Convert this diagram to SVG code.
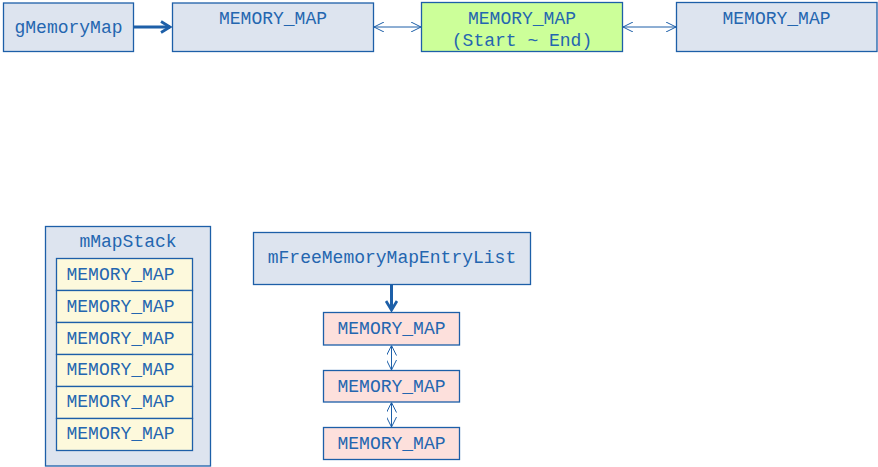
<svg xmlns="http://www.w3.org/2000/svg" width="878" height="467" viewBox="0 0 878 467">
<style>
.bx{fill:#dde4ef;stroke:#1d5fa8;stroke-width:1.3}
.gr{fill:#ccff99;stroke:#1d5fa8;stroke-width:1.3}
.yl{fill:#fdf9dc;stroke:#1d5fa8;stroke-width:1.3}
.pk{fill:#fde0dc;stroke:#1d5fa8;stroke-width:1.3}
text{font-family:"Liberation Mono","Courier New",monospace;font-size:18px;fill:#2466b0}
.c{text-anchor:middle}
.thin{stroke:#1d5fa8;stroke-width:1;fill:none}
.thick{stroke:#1d5fa8;stroke-width:3;fill:none}
</style>
<defs>
<marker id="oa" viewBox="0 0 10 10" refX="10" refY="5" markerWidth="10" markerHeight="10" markerUnits="userSpaceOnUse" orient="auto-start-reverse">
<path d="M0,0 L10,5 L0,10" fill="none" stroke="#1d5fa8" stroke-width="1"/>
</marker>
<marker id="ta" viewBox="0 0 10 10" refX="8" refY="5" markerWidth="4.6" markerHeight="4.6" orient="auto">
<path d="M1.5,1 L8,5 L1.5,9" fill="none" stroke="#1d5fa8" stroke-width="2"/>
</marker>
</defs>
<g id="connectors">
<line class="thick" x1="133.5" y1="27" x2="170" y2="27" marker-end="url(#ta)"/>
<line class="thin" x1="374" y1="27" x2="421" y2="27" marker-start="url(#oa)" marker-end="url(#oa)"/>
<line class="thin" x1="623" y1="27" x2="676" y2="27" marker-start="url(#oa)" marker-end="url(#oa)"/>
<line class="thick" x1="391.5" y1="285" x2="391.5" y2="310" marker-end="url(#ta)"/>
<line class="thin" x1="391.5" y1="345.5" x2="391.5" y2="370" marker-start="url(#oa)" marker-end="url(#oa)"/>
<line class="thin" x1="391.5" y1="402.5" x2="391.5" y2="427" marker-start="url(#oa)" marker-end="url(#oa)"/>
</g>
<g id="gMemoryMap">
<rect class="bx" x="3.5" y="3" width="130" height="48.5"/>
<text x="68.5" y="33" class="c">gMemoryMap</text>
</g>
<g id="map1">
<rect class="bx" x="172.5" y="3" width="201" height="48.5"/>
<text x="273" y="24" class="c">MEMORY_MAP</text>
</g>
<g id="map2">
<rect class="gr" x="421.5" y="2.5" width="201" height="49"/>
<text x="522" y="24" class="c">MEMORY_MAP</text>
<text x="522" y="46" class="c">(Start ~ End)</text>
</g>
<g id="map3">
<rect class="bx" x="676.5" y="2.5" width="200.5" height="49"/>
<text x="776.5" y="24" class="c">MEMORY_MAP</text>
</g>
<g id="mMapStack">
<rect class="bx" x="45.5" y="226.5" width="165" height="239.5"/>
<text x="128" y="247" class="c">mMapStack</text>
<rect class="yl" x="56.5" y="258.5" width="136" height="32"/>
<rect class="yl" x="56.5" y="290.5" width="136" height="32"/>
<rect class="yl" x="56.5" y="322.5" width="136" height="32"/>
<rect class="yl" x="56.5" y="354.5" width="136" height="32"/>
<rect class="yl" x="56.5" y="386.5" width="136" height="32"/>
<rect class="yl" x="56.5" y="418.5" width="136" height="32"/>
<text x="66.5" y="280">MEMORY_MAP</text>
<text x="66.5" y="312">MEMORY_MAP</text>
<text x="66.5" y="343.5">MEMORY_MAP</text>
<text x="66.5" y="375">MEMORY_MAP</text>
<text x="66.5" y="407">MEMORY_MAP</text>
<text x="66.5" y="438.5">MEMORY_MAP</text>
</g>
<g id="mFreeMemoryMapEntryList">
<rect class="bx" x="253.5" y="232.5" width="277" height="52"/>
<text x="392" y="263" class="c">mFreeMemoryMapEntryList</text>
</g>
<g id="free1">
<rect class="pk" x="323.5" y="312.5" width="136" height="32.5"/>
<text x="391.5" y="334" class="c">MEMORY_MAP</text>
</g>
<g id="free2">
<rect class="pk" x="323.5" y="370.5" width="136" height="31.5"/>
<text x="391.5" y="391.5" class="c">MEMORY_MAP</text>
</g>
<g id="free3">
<rect class="pk" x="323.5" y="427.5" width="136" height="32"/>
<text x="391.5" y="448.5" class="c">MEMORY_MAP</text>
</g>
</svg>
